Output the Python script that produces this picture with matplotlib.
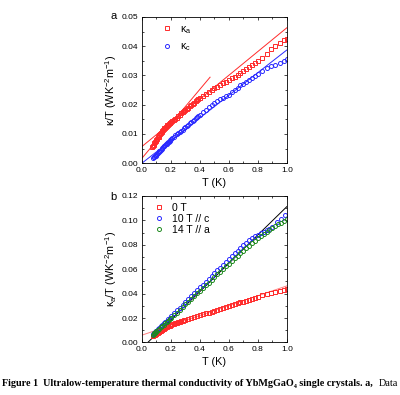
import matplotlib
matplotlib.use('Agg')
import matplotlib.pyplot as plt
from matplotlib.ticker import MultipleLocator

plt.rcParams['font.family'] = ['Liberation Sans', 'DejaVu Sans']
plt.rcParams['mathtext.fontset'] = 'custom'
plt.rcParams['mathtext.rm'] = 'Liberation Sans'
plt.rcParams['mathtext.it'] = 'Liberation Sans'

# panel a: kappa_a / T
t_ka = [0.072, 0.076, 0.080, 0.085, 0.090, 0.095, 0.100, 0.105, 0.110, 0.115, 0.120, 0.125,
        0.130, 0.135, 0.140, 0.145, 0.150, 0.155, 0.160, 0.165, 0.170, 0.175, 0.180, 0.185,
        0.190, 0.195, 0.200, 0.21, 0.22, 0.23, 0.24, 0.25, 0.26, 0.27, 0.28, 0.29, 0.30,
        0.31, 0.32, 0.33, 0.34, 0.35, 0.36, 0.37, 0.38, 0.39, 0.40, 0.42, 0.44, 0.46, 0.48,
        0.50, 0.52, 0.54, 0.56, 0.58, 0.60, 0.62, 0.64, 0.66, 0.68, 0.70, 0.72, 0.74, 0.76,
        0.78, 0.80, 0.83, 0.86, 0.89, 0.92, 0.95, 0.98, 1.00]
ka = [0.0056, 0.0060, 0.0063, 0.0068, 0.0072, 0.0076, 0.0080, 0.0084, 0.0088, 0.0091, 0.0096, 0.0100,
      0.0104, 0.0108, 0.0110, 0.0113, 0.0116, 0.0119, 0.0121, 0.0124, 0.0126, 0.0129, 0.0131, 0.0134,
      0.0137, 0.0139, 0.0141, 0.0145, 0.0149, 0.0152, 0.0156, 0.0161, 0.0165, 0.0170, 0.0174, 0.0177, 0.0181,
      0.0185, 0.0189, 0.0194, 0.0198, 0.0203, 0.0207, 0.0211, 0.0215, 0.0219, 0.0223, 0.0230, 0.0237, 0.0243, 0.0250,
      0.0256, 0.0262, 0.0268, 0.0273, 0.0278, 0.0284, 0.0290, 0.0296, 0.0302, 0.0309, 0.0315, 0.0321, 0.0328, 0.0335,
      0.0342, 0.0349, 0.0360, 0.0374, 0.0389, 0.0401, 0.0410, 0.0420, 0.0426]

# panel a: kappa_c / T
t_kc = [0.075, 0.080, 0.085, 0.090, 0.095, 0.100, 0.105, 0.110, 0.115, 0.120, 0.125, 0.130,
        0.135, 0.140, 0.145, 0.150, 0.155, 0.160, 0.165, 0.170, 0.175, 0.180, 0.185, 0.190,
        0.195, 0.200, 0.21, 0.22, 0.23, 0.24, 0.25, 0.26, 0.27, 0.28, 0.29, 0.30, 0.31, 0.32,
        0.33, 0.34, 0.35, 0.36, 0.37, 0.38, 0.39, 0.40, 0.42, 0.44, 0.46, 0.48, 0.50, 0.52,
        0.54, 0.56, 0.58, 0.60, 0.62, 0.64, 0.66, 0.68, 0.70, 0.72, 0.74, 0.76, 0.78, 0.80,
        0.83, 0.86, 0.89, 0.92, 0.95, 0.98, 1.00]
kc = [0.0018, 0.0020, 0.0022, 0.0024, 0.0026, 0.0028, 0.0031, 0.0034, 0.0037, 0.0040, 0.0043, 0.0046,
      0.0049, 0.0052, 0.0055, 0.0057, 0.0060, 0.0062, 0.0065, 0.0067, 0.0070, 0.0072, 0.0074, 0.0077,
      0.0079, 0.0081, 0.0086, 0.0090, 0.0095, 0.0099, 0.0103, 0.0107, 0.0111, 0.0115, 0.0120, 0.0124, 0.0128, 0.0132,
      0.0137, 0.0141, 0.0145, 0.0149, 0.0154, 0.0158, 0.0162, 0.0166, 0.0175, 0.0183, 0.0191, 0.0199, 0.0206, 0.0213,
      0.0219, 0.0224, 0.0229, 0.0234, 0.0243, 0.0250, 0.0258, 0.0266, 0.0272, 0.0278, 0.0284, 0.0290, 0.0297, 0.0305,
      0.0316, 0.0324, 0.0331, 0.0337, 0.0344, 0.0351, 0.0355]

# fit lines in panel a (end points)
fit_a1_t = [0.0, 1.0]
fit_a1_k = [0.0057, 0.0463]
fit_a2_t = [0.0, 0.47]
fit_a2_k = [0.0017, 0.0294]
fit_c_t = [0.0, 1.0]
fit_c_k = [0.0, 0.0387]

# panel b: kappa_a / T at 0 T, 10 T // c, 14 T // a
t_0 = [0.075, 0.080, 0.085, 0.090, 0.095, 0.100, 0.105, 0.110, 0.115, 0.120, 0.125, 0.130,
       0.135, 0.140, 0.145, 0.150, 0.160, 0.170, 0.180, 0.190, 0.200, 0.21, 0.22, 0.23, 0.24,
       0.25, 0.26, 0.27, 0.28, 0.29, 0.30, 0.32, 0.34, 0.36, 0.38, 0.40, 0.42, 0.44, 0.46,
       0.48, 0.50, 0.52, 0.54, 0.56, 0.58, 0.60, 0.62, 0.64, 0.66, 0.68, 0.70, 0.72, 0.74,
       0.76, 0.78, 0.80, 0.83, 0.86, 0.89, 0.92, 0.95, 0.98, 1.00]
k_0 = [0.0055, 0.0058, 0.0061, 0.0065, 0.0069, 0.0073, 0.0077, 0.0081, 0.0085, 0.0089, 0.0092, 0.0096,
       0.0100, 0.0104, 0.0108, 0.0111, 0.0118, 0.0126, 0.0132, 0.0138, 0.0144, 0.0148, 0.0152, 0.0156, 0.0160,
       0.0164, 0.0168, 0.0172, 0.0176, 0.0180, 0.0185, 0.0193, 0.0200, 0.0207, 0.0215, 0.0223, 0.0230, 0.0238, 0.0245,
       0.0253, 0.0261, 0.0267, 0.0273, 0.0281, 0.0290, 0.0297, 0.0305, 0.0312, 0.0320, 0.0328, 0.0335, 0.0341, 0.0348,
       0.0357, 0.0366, 0.0375, 0.0387, 0.0396, 0.0404, 0.0413, 0.0422, 0.0430, 0.0434]

t_10 = [0.075, 0.080, 0.085, 0.090, 0.095, 0.10, 0.11, 0.12, 0.13, 0.14, 0.15, 0.16, 0.17, 0.18,
        0.19, 0.20, 0.22, 0.24, 0.26, 0.28, 0.30, 0.32, 0.34, 0.36, 0.38, 0.40, 0.42, 0.44, 0.46,
        0.48, 0.50, 0.52, 0.54, 0.56, 0.58, 0.60, 0.62, 0.64, 0.66, 0.68, 0.70, 0.72, 0.74, 0.76,
        0.78, 0.80, 0.82, 0.84, 0.86, 0.88, 0.90, 0.93, 0.96, 0.99]
k_10 = [0.0069, 0.0074, 0.0080, 0.0086, 0.0091, 0.0097, 0.0109, 0.0121, 0.0133, 0.0145, 0.0156, 0.0167, 0.0179, 0.0191,
        0.0203, 0.0215, 0.0239, 0.0263, 0.0286, 0.0310, 0.0333, 0.0356, 0.0379, 0.0403, 0.0427, 0.0451, 0.0474, 0.0497, 0.0520,
        0.0544, 0.0567, 0.0590, 0.0613, 0.0637, 0.0660, 0.0683, 0.0706, 0.0730, 0.0752, 0.0774, 0.0796, 0.0818, 0.0838, 0.0857,
        0.0873, 0.0884, 0.0895, 0.0906, 0.0918, 0.0930, 0.0943, 0.0990, 0.1015, 0.1045]

t_14 = [0.075, 0.080, 0.085, 0.090, 0.095, 0.10, 0.11, 0.12, 0.13, 0.14, 0.15, 0.16, 0.17, 0.18,
        0.19, 0.20, 0.22, 0.24, 0.26, 0.28, 0.30, 0.32, 0.34, 0.36, 0.38, 0.40, 0.42, 0.44, 0.46,
        0.48, 0.50, 0.52, 0.54, 0.56, 0.58, 0.60, 0.62, 0.64, 0.66, 0.68, 0.70, 0.72, 0.74, 0.76,
        0.78, 0.80, 0.82, 0.84, 0.86, 0.88, 0.90, 0.92, 0.94, 0.96, 0.98, 1.00]
k_14 = [0.0064, 0.0069, 0.0074, 0.0080, 0.0085, 0.0090, 0.0101, 0.0112, 0.0123, 0.0134, 0.0145, 0.0156, 0.0167, 0.0178,
        0.0189, 0.0200, 0.0222, 0.0244, 0.0267, 0.0289, 0.0311, 0.0334, 0.0356, 0.0379, 0.0401, 0.0423, 0.0446, 0.0469, 0.0491,
        0.0513, 0.0535, 0.0557, 0.0579, 0.0601, 0.0623, 0.0645, 0.0667, 0.0689, 0.0710, 0.0731, 0.0752, 0.0773, 0.0793, 0.0813,
        0.0833, 0.0858, 0.0872, 0.0888, 0.0904, 0.0918, 0.0934, 0.0950, 0.0966, 0.0980, 0.0995, 0.1010]

fit_b0_t = [0.0, 1.0]
fit_b0_k = [0.0060, 0.0463]
fit_bh_t = [0.04, 1.0]
fit_bh_k = [0.0, 0.1112]

RED = '#ff2a2a'
BLUE = '#2a2aff'
GREEN = '#1f8a1f'

fig = plt.figure(figsize=(4.0, 3.95), dpi=100)
ax1 = fig.add_axes([0.355, 0.587, 0.362, 0.370])
ax2 = fig.add_axes([0.355, 0.133, 0.362, 0.371])

mk = dict(ls='none', ms=2.9, mew=0.7, mfc='none')

ax1.plot(fit_a1_t, fit_a1_k, color=RED, lw=0.7)
ax1.plot(fit_a2_t, fit_a2_k, color=RED, lw=0.7)
ax1.plot(fit_c_t, fit_c_k, color=BLUE, lw=0.7)
ax1.plot(t_ka, ka, marker='s', color=RED, label=r'$\kappa_\mathrm{a}$', **mk)
ax1.plot(t_kc, kc, marker='o', color=BLUE, label=r'$\kappa_\mathrm{c}$', **mk)

ax2.plot(fit_b0_t, fit_b0_k, color='#ff8080', lw=0.7)
ax2.plot(fit_bh_t, fit_bh_k, color='black', lw=0.7)
ax2.plot(t_0, k_0, marker='s', color=RED, label='0 T', **mk)
ax2.plot(t_10, k_10, marker='o', color=BLUE, label='10 T // c', **mk)
ax2.plot(t_14, k_14, marker='o', color=GREEN, label='14 T // a', **mk)

for ax, ymax, ymaj in [(ax1, 0.05, 0.01), (ax2, 0.12, 0.02)]:
    ax.set_xlim(0, 1.0)
    ax.set_ylim(0, ymax)
    ax.xaxis.set_major_locator(MultipleLocator(0.2))
    ax.xaxis.set_minor_locator(MultipleLocator(0.1))
    ax.yaxis.set_major_locator(MultipleLocator(ymaj))
    ax.yaxis.set_minor_locator(MultipleLocator(ymaj / 2))
    ax.xaxis.set_major_formatter(plt.FormatStrFormatter('%.1f'))
    ax.yaxis.set_major_formatter(plt.FormatStrFormatter('%.2f'))
    ax.tick_params(which='both', direction='in', top=True, right=True,
                   labelsize=6.0, width=0.5, pad=2.5)
    ax.tick_params(which='major', length=2.5)
    ax.tick_params(which='minor', length=1.3)
    for s in ax.spines.values():
        s.set_linewidth(0.6)
    ax.set_xlabel('T (K)', fontsize=7.8, labelpad=3)

ax1.set_ylabel(r'$\kappa$/T (WK$^{-2}$m$^{-1}$)', fontsize=7.8, labelpad=2)
ax2.set_ylabel(r'$\kappa_\mathrm{a}$/T (WK$^{-2}$m$^{-1}$)', fontsize=7.8, labelpad=2)

ax1.legend(loc='upper left', bbox_to_anchor=(0.12, 0.98), frameon=False, fontsize=7.5,
           handlelength=0.6, handletextpad=1.0, labelspacing=0.55, borderaxespad=0)
ax2.legend(loc='upper left', bbox_to_anchor=(0.07, 0.98), frameon=False, fontsize=7.5,
           handlelength=0.6, handletextpad=0.9, labelspacing=0.1, borderaxespad=0)

fig.text(0.283, 0.959, 'a', fontsize=8, ha='center', va='center')
fig.text(0.283, 0.501, 'b', fontsize=8, ha='center', va='center')

fig.text(0.005, 0.030, 'Figure 1  Ultralow-temperature thermal conductivity of YbMgGaO\u2084 single crystals. a,',
         fontsize=7.3, fontweight='bold', family=['Liberation Serif', 'DejaVu Serif'], ha='left', va='center')
fig.text(0.995, 0.030, 'Data', fontsize=7.3, family=['Liberation Serif', 'DejaVu Serif'],
         ha='right', va='center')

fig.savefig('out.png', dpi=100)
